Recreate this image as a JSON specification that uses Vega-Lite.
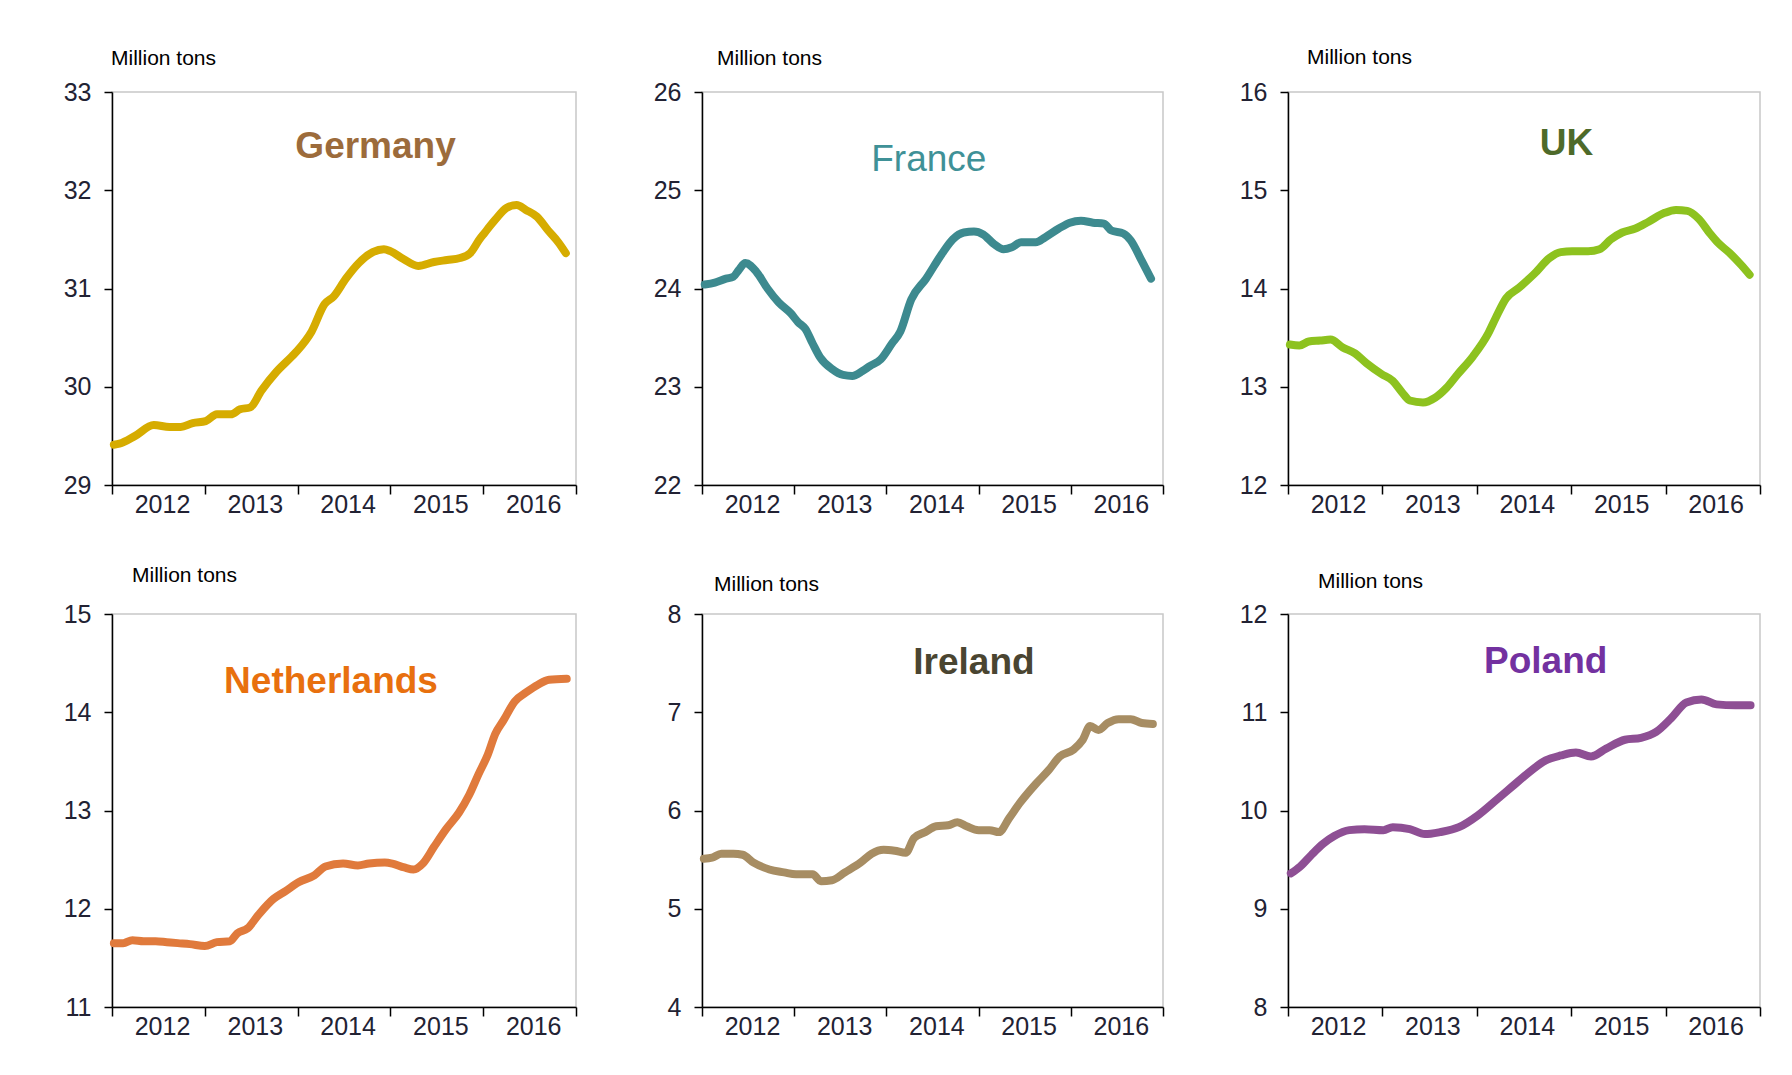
{
 "$schema": "https://vega.github.io/schema/vega-lite/v6.json",
 "background": "white",
 "padding": {"left": 62, "top": 45, "right": 0, "bottom": 0},
 "autosize": {"type": "pad"},
 "columns": 3,
 "spacing": {"row": 46, "column": 68},
 "datasets": {
  "series": [
   {"country":"Germany","year":2012.02,"value":29.41},{"country":"Germany","year":2012.08,"value":29.42},{"country":"Germany","year":2012.25,"value":29.50},{"country":"Germany","year":2012.45,"value":29.61},{"country":"Germany","year":2012.62,"value":29.59},{"country":"Germany","year":2012.74,"value":29.59},{"country":"Germany","year":2012.87,"value":29.63},{"country":"Germany","year":2013.01,"value":29.65},{"country":"Germany","year":2013.13,"value":29.72},{"country":"Germany","year":2013.28,"value":29.72},{"country":"Germany","year":2013.38,"value":29.77},{"country":"Germany","year":2013.49,"value":29.79},{"country":"Germany","year":2013.61,"value":29.96},{"country":"Germany","year":2013.77,"value":30.15},{"country":"Germany","year":2013.94,"value":30.31},{"country":"Germany","year":2014.00,"value":30.37},{"country":"Germany","year":2014.15,"value":30.56},{"country":"Germany","year":2014.29,"value":30.84},{"country":"Germany","year":2014.39,"value":30.92},{"country":"Germany","year":2014.52,"value":31.10},{"country":"Germany","year":2014.66,"value":31.26},{"country":"Germany","year":2014.81,"value":31.37},{"country":"Germany","year":2014.93,"value":31.40},{"country":"Germany","year":2015.00,"value":31.38},{"country":"Germany","year":2015.14,"value":31.30},{"country":"Germany","year":2015.30,"value":31.23},{"country":"Germany","year":2015.47,"value":31.27},{"country":"Germany","year":2015.61,"value":31.29},{"country":"Germany","year":2015.75,"value":31.31},{"country":"Germany","year":2015.86,"value":31.36},{"country":"Germany","year":2015.96,"value":31.50},{"country":"Germany","year":2016.01,"value":31.56},{"country":"Germany","year":2016.13,"value":31.70},{"country":"Germany","year":2016.25,"value":31.82},{"country":"Germany","year":2016.36,"value":31.85},{"country":"Germany","year":2016.46,"value":31.80},{"country":"Germany","year":2016.58,"value":31.73},{"country":"Germany","year":2016.70,"value":31.59},{"country":"Germany","year":2016.81,"value":31.47},{"country":"Germany","year":2016.89,"value":31.36},
   {"country":"France","year":2012.03,"value":24.04},{"country":"France","year":2012.14,"value":24.06},{"country":"France","year":2012.26,"value":24.10},{"country":"France","year":2012.34,"value":24.12},{"country":"France","year":2012.40,"value":24.19},{"country":"France","year":2012.47,"value":24.26},{"country":"France","year":2012.59,"value":24.17},{"country":"France","year":2012.71,"value":24.00},{"country":"France","year":2012.83,"value":23.86},{"country":"France","year":2012.96,"value":23.75},{"country":"France","year":2013.04,"value":23.66},{"country":"France","year":2013.12,"value":23.59},{"country":"France","year":2013.20,"value":23.44},{"country":"France","year":2013.28,"value":23.30},{"country":"France","year":2013.41,"value":23.18},{"country":"France","year":2013.53,"value":23.12},{"country":"France","year":2013.63,"value":23.11},{"country":"France","year":2013.74,"value":23.16},{"country":"France","year":2013.82,"value":23.21},{"country":"France","year":2013.94,"value":23.28},{"country":"France","year":2014.06,"value":23.44},{"country":"France","year":2014.15,"value":23.56},{"country":"France","year":2014.27,"value":23.89},{"country":"France","year":2014.43,"value":24.10},{"country":"France","year":2014.60,"value":24.35},{"country":"France","year":2014.72,"value":24.50},{"country":"France","year":2014.84,"value":24.57},{"country":"France","year":2014.95,"value":24.58},{"country":"France","year":2015.05,"value":24.55},{"country":"France","year":2015.17,"value":24.45},{"country":"France","year":2015.27,"value":24.40},{"country":"France","year":2015.36,"value":24.42},{"country":"France","year":2015.46,"value":24.47},{"country":"France","year":2015.62,"value":24.47},{"country":"France","year":2015.72,"value":24.52},{"country":"France","year":2015.87,"value":24.61},{"country":"France","year":2015.99,"value":24.67},{"country":"France","year":2016.11,"value":24.69},{"country":"France","year":2016.24,"value":24.67},{"country":"France","year":2016.36,"value":24.66},{"country":"France","year":2016.44,"value":24.59},{"country":"France","year":2016.57,"value":24.56},{"country":"France","year":2016.65,"value":24.49},{"country":"France","year":2016.77,"value":24.28},{"country":"France","year":2016.87,"value":24.10},
   {"country":"UK","year":2012.02,"value":13.43},{"country":"UK","year":2012.12,"value":13.42},{"country":"UK","year":2012.22,"value":13.46},{"country":"UK","year":2012.34,"value":13.47},{"country":"UK","year":2012.45,"value":13.48},{"country":"UK","year":2012.58,"value":13.40},{"country":"UK","year":2012.71,"value":13.34},{"country":"UK","year":2012.83,"value":13.24},{"country":"UK","year":2012.99,"value":13.13},{"country":"UK","year":2013.11,"value":13.06},{"country":"UK","year":2013.21,"value":12.94},{"country":"UK","year":2013.29,"value":12.86},{"country":"UK","year":2013.43,"value":12.84},{"country":"UK","year":2013.56,"value":12.89},{"country":"UK","year":2013.68,"value":12.99},{"country":"UK","year":2013.80,"value":13.13},{"country":"UK","year":2013.96,"value":13.31},{"country":"UK","year":2014.12,"value":13.54},{"country":"UK","year":2014.20,"value":13.70},{"country":"UK","year":2014.31,"value":13.90},{"country":"UK","year":2014.45,"value":14.01},{"country":"UK","year":2014.61,"value":14.15},{"country":"UK","year":2014.77,"value":14.31},{"country":"UK","year":2014.89,"value":14.37},{"country":"UK","year":2015.01,"value":14.38},{"country":"UK","year":2015.18,"value":14.38},{"country":"UK","year":2015.30,"value":14.40},{"country":"UK","year":2015.42,"value":14.50},{"country":"UK","year":2015.54,"value":14.57},{"country":"UK","year":2015.68,"value":14.61},{"country":"UK","year":2015.82,"value":14.68},{"country":"UK","year":2015.99,"value":14.77},{"country":"UK","year":2016.11,"value":14.80},{"country":"UK","year":2016.23,"value":14.79},{"country":"UK","year":2016.35,"value":14.71},{"country":"UK","year":2016.47,"value":14.56},{"country":"UK","year":2016.55,"value":14.47},{"country":"UK","year":2016.68,"value":14.36},{"country":"UK","year":2016.80,"value":14.24},{"country":"UK","year":2016.89,"value":14.14},
   {"country":"Netherlands","year":2012.02,"value":11.65},{"country":"Netherlands","year":2012.12,"value":11.65},{"country":"Netherlands","year":2012.22,"value":11.68},{"country":"Netherlands","year":2012.34,"value":11.67},{"country":"Netherlands","year":2012.47,"value":11.67},{"country":"Netherlands","year":2012.59,"value":11.66},{"country":"Netherlands","year":2012.71,"value":11.65},{"country":"Netherlands","year":2012.84,"value":11.64},{"country":"Netherlands","year":2013.00,"value":11.62},{"country":"Netherlands","year":2013.13,"value":11.66},{"country":"Netherlands","year":2013.27,"value":11.67},{"country":"Netherlands","year":2013.35,"value":11.75},{"country":"Netherlands","year":2013.46,"value":11.80},{"country":"Netherlands","year":2013.58,"value":11.94},{"country":"Netherlands","year":2013.74,"value":12.10},{"country":"Netherlands","year":2013.87,"value":12.18},{"country":"Netherlands","year":2014.01,"value":12.27},{"country":"Netherlands","year":2014.18,"value":12.34},{"country":"Netherlands","year":2014.30,"value":12.43},{"country":"Netherlands","year":2014.49,"value":12.46},{"country":"Netherlands","year":2014.65,"value":12.44},{"country":"Netherlands","year":2014.77,"value":12.46},{"country":"Netherlands","year":2014.94,"value":12.47},{"country":"Netherlands","year":2015.02,"value":12.46},{"country":"Netherlands","year":2015.15,"value":12.42},{"country":"Netherlands","year":2015.25,"value":12.40},{"country":"Netherlands","year":2015.35,"value":12.46},{"country":"Netherlands","year":2015.47,"value":12.63},{"country":"Netherlands","year":2015.60,"value":12.81},{"country":"Netherlands","year":2015.74,"value":12.98},{"country":"Netherlands","year":2015.85,"value":13.16},{"country":"Netherlands","year":2015.95,"value":13.37},{"country":"Netherlands","year":2016.05,"value":13.57},{"country":"Netherlands","year":2016.13,"value":13.78},{"country":"Netherlands","year":2016.22,"value":13.92},{"country":"Netherlands","year":2016.34,"value":14.11},{"country":"Netherlands","year":2016.46,"value":14.20},{"country":"Netherlands","year":2016.59,"value":14.28},{"country":"Netherlands","year":2016.71,"value":14.33},{"country":"Netherlands","year":2016.90,"value":14.34},
   {"country":"Ireland","year":2012.02,"value":5.51},{"country":"Ireland","year":2012.11,"value":5.52},{"country":"Ireland","year":2012.21,"value":5.56},{"country":"Ireland","year":2012.34,"value":5.56},{"country":"Ireland","year":2012.44,"value":5.55},{"country":"Ireland","year":2012.56,"value":5.47},{"country":"Ireland","year":2012.73,"value":5.40},{"country":"Ireland","year":2012.89,"value":5.37},{"country":"Ireland","year":2013.02,"value":5.35},{"country":"Ireland","year":2013.20,"value":5.35},{"country":"Ireland","year":2013.29,"value":5.28},{"country":"Ireland","year":2013.41,"value":5.29},{"country":"Ireland","year":2013.55,"value":5.37},{"country":"Ireland","year":2013.72,"value":5.47},{"country":"Ireland","year":2013.84,"value":5.56},{"country":"Ireland","year":2013.97,"value":5.60},{"country":"Ireland","year":2014.09,"value":5.59},{"country":"Ireland","year":2014.21,"value":5.57},{"country":"Ireland","year":2014.30,"value":5.72},{"country":"Ireland","year":2014.42,"value":5.78},{"country":"Ireland","year":2014.54,"value":5.84},{"country":"Ireland","year":2014.67,"value":5.85},{"country":"Ireland","year":2014.77,"value":5.88},{"country":"Ireland","year":2014.87,"value":5.84},{"country":"Ireland","year":2015.00,"value":5.80},{"country":"Ireland","year":2015.12,"value":5.80},{"country":"Ireland","year":2015.22,"value":5.78},{"country":"Ireland","year":2015.33,"value":5.92},{"country":"Ireland","year":2015.45,"value":6.08},{"country":"Ireland","year":2015.62,"value":6.27},{"country":"Ireland","year":2015.76,"value":6.41},{"country":"Ireland","year":2015.88,"value":6.55},{"country":"Ireland","year":2016.03,"value":6.62},{"country":"Ireland","year":2016.13,"value":6.72},{"country":"Ireland","year":2016.21,"value":6.86},{"country":"Ireland","year":2016.30,"value":6.82},{"country":"Ireland","year":2016.40,"value":6.89},{"country":"Ireland","year":2016.52,"value":6.93},{"country":"Ireland","year":2016.65,"value":6.93},{"country":"Ireland","year":2016.77,"value":6.89},{"country":"Ireland","year":2016.89,"value":6.88},
   {"country":"Poland","year":2012.03,"value":9.36},{"country":"Poland","year":2012.13,"value":9.43},{"country":"Poland","year":2012.25,"value":9.55},{"country":"Poland","year":2012.37,"value":9.66},{"country":"Poland","year":2012.49,"value":9.74},{"country":"Poland","year":2012.65,"value":9.80},{"country":"Poland","year":2012.81,"value":9.81},{"country":"Poland","year":2013.01,"value":9.80},{"country":"Poland","year":2013.11,"value":9.83},{"country":"Poland","year":2013.29,"value":9.81},{"country":"Poland","year":2013.45,"value":9.76},{"country":"Poland","year":2013.61,"value":9.78},{"country":"Poland","year":2013.81,"value":9.83},{"country":"Poland","year":2014.01,"value":9.95},{"country":"Poland","year":2014.21,"value":10.11},{"country":"Poland","year":2014.37,"value":10.24},{"country":"Poland","year":2014.53,"value":10.37},{"country":"Poland","year":2014.73,"value":10.51},{"country":"Poland","year":2014.89,"value":10.56},{"country":"Poland","year":2015.05,"value":10.59},{"country":"Poland","year":2015.21,"value":10.55},{"country":"Poland","year":2015.37,"value":10.63},{"country":"Poland","year":2015.57,"value":10.72},{"country":"Poland","year":2015.74,"value":10.74},{"country":"Poland","year":2015.90,"value":10.80},{"country":"Poland","year":2016.06,"value":10.94},{"country":"Poland","year":2016.22,"value":11.10},{"country":"Poland","year":2016.38,"value":11.13},{"country":"Poland","year":2016.54,"value":11.08},{"country":"Poland","year":2016.74,"value":11.07},{"country":"Poland","year":2016.90,"value":11.07}
  ]
 },
 "concat": [
  {
   "width": 464, "height": 393,
   "title": {"text": "Million tons", "dx": -1, "offset": 11.5},
   "layer": [
    {"data": {"values": [{"label": "Germany"}]}, "mark": {"type": "rect", "color": "white"},
     "encoding": {"x": {"datum": 2013.6, "axis": {"title": null}}, "x2": {"datum": 2016.5}, "y": {"datum": 32.81, "axis": {"title": null}}, "y2": {"datum": 32.12}}},
    {"data": {"name": "series"}, "transform": [{"filter": "datum.country === 'Germany'"}],
     "mark": {"type": "line", "color": "#D6AC00", "strokeWidth": 8, "interpolate": "monotone", "strokeCap": "round"},
     "encoding": {
      "x": {"field": "year", "type": "quantitative", "scale": {"domain": [2012, 2017], "nice": false, "zero": false}, "axis": {"title": null, "values": [2012, 2013, 2014, 2015, 2016, 2017], "format": "d", "labelExpr": "datum.value < 2017 ? datum.label : ''"}},
      "y": {"field": "value", "type": "quantitative", "scale": {"domain": [29, 33], "nice": false, "zero": false}, "axis": {"title": null, "values": [29, 30, 31, 32, 33], "format": "d"}}}},
    {"data": {"values": [{"label": "Germany"}]}, "mark": {"type": "text", "fontSize": 37, "fontWeight": "bold", "color": "#9C6B3B"},
     "encoding": {"x": {"datum": 2014.84, "axis": {"title": null}}, "y": {"datum": 32.44, "axis": {"title": null}}, "text": {"field": "label"}}}
   ]
  },
  {
   "width": 461, "height": 393,
   "title": {"text": "Million tons", "dx": 15, "offset": 11.5},
   "layer": [
    {"data": {"values": [{"label": "France"}]}, "mark": {"type": "rect", "color": "white"},
     "encoding": {"x": {"datum": 2013.7, "axis": {"title": null}}, "x2": {"datum": 2015.4}, "y": {"datum": 25.61, "axis": {"title": null}}, "y2": {"datum": 25.09}}},
    {"data": {"name": "series"}, "transform": [{"filter": "datum.country === 'France'"}],
     "mark": {"type": "line", "color": "#3D8A8F", "strokeWidth": 8, "interpolate": "monotone", "strokeCap": "round"},
     "encoding": {
      "x": {"field": "year", "type": "quantitative", "scale": {"domain": [2012, 2017], "nice": false, "zero": false}, "axis": {"title": null, "values": [2012, 2013, 2014, 2015, 2016, 2017], "format": "d", "labelExpr": "datum.value < 2017 ? datum.label : ''"}},
      "y": {"field": "value", "type": "quantitative", "scale": {"domain": [22, 26], "nice": false, "zero": false}, "axis": {"title": null, "values": [22, 23, 24, 25, 26], "format": "d"}}}},
    {"data": {"values": [{"label": "France"}]}, "mark": {"type": "text", "fontSize": 37, "fontWeight": "normal", "color": "#3F9197"},
     "encoding": {"x": {"datum": 2014.46, "axis": {"title": null}}, "y": {"datum": 25.31, "axis": {"title": null}}, "text": {"field": "label"}}}
   ]
  },
  {
   "width": 472, "height": 393,
   "title": {"text": "Million tons", "dx": 19, "offset": 12.5},
   "layer": [
    {"data": {"values": [{"label": "UK"}]}, "mark": {"type": "rect", "color": "white"},
     "encoding": {"x": {"datum": 2013.5, "axis": {"title": null}}, "x2": {"datum": 2016.5}, "y": {"datum": 15.83, "axis": {"title": null}}, "y2": {"datum": 15.13}}},
    {"data": {"name": "series"}, "transform": [{"filter": "datum.country === 'UK'"}],
     "mark": {"type": "line", "color": "#8DC21F", "strokeWidth": 8, "interpolate": "monotone", "strokeCap": "round"},
     "encoding": {
      "x": {"field": "year", "type": "quantitative", "scale": {"domain": [2012, 2017], "nice": false, "zero": false}, "axis": {"title": null, "values": [2012, 2013, 2014, 2015, 2016, 2017], "format": "d", "labelExpr": "datum.value < 2017 ? datum.label : ''"}},
      "y": {"field": "value", "type": "quantitative", "scale": {"domain": [12, 16], "nice": false, "zero": false}, "axis": {"title": null, "values": [12, 13, 14, 15, 16], "format": "d"}}}},
    {"data": {"values": [{"label": "UK"}]}, "mark": {"type": "text", "fontSize": 37, "fontWeight": "bold", "color": "#4E6A2A"},
     "encoding": {"x": {"datum": 2014.95, "axis": {"title": null}}, "y": {"datum": 15.47, "axis": {"title": null}}, "text": {"field": "label"}}}
   ]
  },
  {
   "width": 464, "height": 393,
   "title": {"text": "Million tons", "dx": 20, "offset": 16},
   "layer": [
    {"data": {"values": [{"label": "Netherlands"}]}, "mark": {"type": "rect", "color": "white"},
     "encoding": {"x": {"datum": 2012.7, "axis": {"title": null}}, "x2": {"datum": 2015.99}, "y": {"datum": 14.66, "axis": {"title": null}}, "y2": {"datum": 13.97}}},
    {"data": {"name": "series"}, "transform": [{"filter": "datum.country === 'Netherlands'"}],
     "mark": {"type": "line", "color": "#E07A3C", "strokeWidth": 8, "interpolate": "monotone", "strokeCap": "round"},
     "encoding": {
      "x": {"field": "year", "type": "quantitative", "scale": {"domain": [2012, 2017], "nice": false, "zero": false}, "axis": {"title": null, "values": [2012, 2013, 2014, 2015, 2016, 2017], "format": "d", "labelExpr": "datum.value < 2017 ? datum.label : ''"}},
      "y": {"field": "value", "type": "quantitative", "scale": {"domain": [11, 15], "nice": false, "zero": false}, "axis": {"title": null, "values": [11, 12, 13, 14, 15], "format": "d"}}}},
    {"data": {"values": [{"label": "Netherlands"}]}, "mark": {"type": "text", "fontSize": 37, "fontWeight": "bold", "color": "#E8700E"},
     "encoding": {"x": {"datum": 2014.36, "axis": {"title": null}}, "y": {"datum": 14.31, "axis": {"title": null}}, "text": {"field": "label"}}}
   ]
  },
  {
   "width": 461, "height": 393,
   "title": {"text": "Million tons", "dx": 12, "offset": 7},
   "layer": [
    {"data": {"values": [{"label": "Ireland"}]}, "mark": {"type": "rect", "color": "white"},
     "encoding": {"x": {"datum": 2013.5, "axis": {"title": null}}, "x2": {"datum": 2016.5}, "y": {"datum": 7.85, "axis": {"title": null}}, "y2": {"datum": 7.18}}},
    {"data": {"name": "series"}, "transform": [{"filter": "datum.country === 'Ireland'"}],
     "mark": {"type": "line", "color": "#A78D63", "strokeWidth": 8, "interpolate": "monotone", "strokeCap": "round"},
     "encoding": {
      "x": {"field": "year", "type": "quantitative", "scale": {"domain": [2012, 2017], "nice": false, "zero": false}, "axis": {"title": null, "values": [2012, 2013, 2014, 2015, 2016, 2017], "format": "d", "labelExpr": "datum.value < 2017 ? datum.label : ''"}},
      "y": {"field": "value", "type": "quantitative", "scale": {"domain": [4, 8], "nice": false, "zero": false}, "axis": {"title": null, "values": [4, 5, 6, 7, 8], "format": "d"}}}},
    {"data": {"values": [{"label": "Ireland"}]}, "mark": {"type": "text", "fontSize": 37, "fontWeight": "bold", "color": "#4A4531"},
     "encoding": {"x": {"datum": 2014.95, "axis": {"title": null}}, "y": {"datum": 7.5, "axis": {"title": null}}, "text": {"field": "label"}}}
   ]
  },
  {
   "width": 472, "height": 393,
   "title": {"text": "Million tons", "dx": 30, "offset": 10},
   "layer": [
    {"data": {"values": [{"label": "Poland"}]}, "mark": {"type": "rect", "color": "white"},
     "encoding": {"x": {"datum": 2013.5, "axis": {"title": null}}, "x2": {"datum": 2016.5}, "y": {"datum": 11.84, "axis": {"title": null}}, "y2": {"datum": 11.19}}},
    {"data": {"name": "series"}, "transform": [{"filter": "datum.country === 'Poland'"}],
     "mark": {"type": "line", "color": "#8E4F94", "strokeWidth": 8, "interpolate": "monotone", "strokeCap": "round"},
     "encoding": {
      "x": {"field": "year", "type": "quantitative", "scale": {"domain": [2012, 2017], "nice": false, "zero": false}, "axis": {"title": null, "values": [2012, 2013, 2014, 2015, 2016, 2017], "format": "d", "labelExpr": "datum.value < 2017 ? datum.label : ''"}},
      "y": {"field": "value", "type": "quantitative", "scale": {"domain": [8, 12], "nice": false, "zero": false}, "axis": {"title": null, "values": [8, 9, 10, 11, 12], "format": "d"}}}},
    {"data": {"values": [{"label": "Poland"}]}, "mark": {"type": "text", "fontSize": 37, "fontWeight": "bold", "color": "#7331A0"},
     "encoding": {"x": {"datum": 2014.73, "axis": {"title": null}}, "y": {"datum": 11.51, "axis": {"title": null}}, "text": {"field": "label"}}}
   ]
  }
 ],
 "config": {
  "font": "Liberation Sans",
  "view": {"stroke": "#c8c8c8", "strokeWidth": 1.5},
  "axis": {"domainColor": "#000000", "domainWidth": 1.5, "tickColor": "#000000", "tickWidth": 1.5, "gridColor": "#cccccc", "gridWidth": 1.5, "labelFont": "Liberation Sans", "labelFontSize": 25, "labelColor": "#222233", "labelOverlap": false, "labelBound": false, "labelFlush": false},
  "axisX": {"tickSize": 9, "labelPadding": -2, "labelOffset": {"condition": {"test": "datum.value >= 2017", "value": 0}, "value": 50}},
  "axisY": {"tickSize": 8, "labelPadding": 13},
  "title": {"anchor": "start", "frame": "group", "fontSize": 21, "fontWeight": "normal", "font": "Liberation Sans", "color": "#000000"}
 }
}
